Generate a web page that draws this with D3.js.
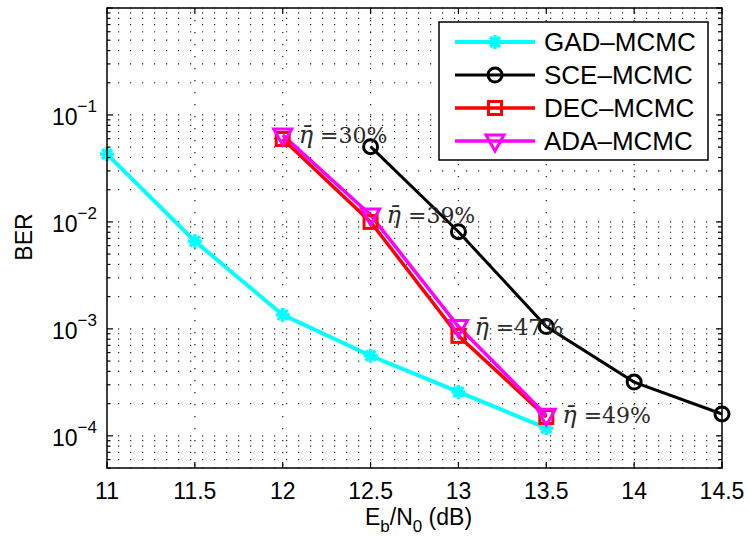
<!DOCTYPE html>
<meta charset="utf-8">
<style>
body { margin: 0; background: #fff; }
text { font-family: "Liberation Sans", Arial, sans-serif; fill: #000; }
.grid line { stroke: #222; stroke-width: 1.2px; stroke-dasharray: 1.2,10.8; }
.eta { font-family: "DejaVu Serif", "Liberation Serif", serif; font-size: 22px; fill: #2a2a2a; }
</style>
<body>
<script src="https://d3js.org/d3.v7.min.js"></script>
<script>

// data
var snr = [11, 11.5, 12, 12.5, 13, 13.5, 14, 14.5];
var gadX = [11, 11.5, 12, 12.5, 13, 13.5];
var gadBer = [0.043, 0.0066, 0.00135, 0.00056, 0.000257, 0.000118];
var sceX = [12.5, 13, 13.5, 14, 14.5];
var sceBer = [0.0505, 0.0081, 0.00105, 0.000318, 0.00016];
var decX = [12, 12.5, 13, 13.5];
var decBer = [0.0596, 0.0100, 0.00086, 0.00015];
var adaX = [12, 12.5, 13, 13.5];
var adaBer = [0.065, 0.0116, 0.00105, 0.000156];
var etaLabels = ["30%", "39%", "47%", "49%"];
var yTickExp = [-1, -2, -3, -4];
var seriesNames = ["GAD\u2013MCMC", "SCE\u2013MCMC", "DEC\u2013MCMC", "ADA\u2013MCMC"];

var series = [
  {name: seriesNames[0], xs: gadX, ys: gadBer, color: "#00ffff", width: 4, marker: "star"},
  {name: seriesNames[1], xs: sceX, ys: sceBer, color: "#000000", width: 3, marker: "circle"},
  {name: seriesNames[2], xs: decX, ys: decBer, color: "#ff0000", width: 3.5, marker: "square"},
  {name: seriesNames[3], xs: adaX, ys: adaBer, color: "#ff00ff", width: 3.5, marker: "triangle"}
];

// dimensions
var margin = {top: 8, right: 27, bottom: 76, left: 107},
    width = 749 - margin.left - margin.right,
    height = 544 - margin.top - margin.bottom;

var x = d3.scaleLinear().domain([11, 14.5]).range([0, width]);
var y = d3.scaleLog().domain([5e-5, 1]).range([height, 0]);

var svg = d3.select("body").append("svg")
    .attr("width", 749)
    .attr("height", 544)
  .append("g")
    .attr("transform", "translate(" + margin.left + "," + margin.top + ")");

// log ticks: majors and minors
var minorVals = [];
for (var e = -5; e <= 0; e++) {
  for (var m = 1; m <= 9; m++) {
    var v = m * Math.pow(10, e);
    if (v >= 5e-5 && v <= 1) minorVals.push(v);
  }
}

// dotted grid
var grid = svg.append("g").attr("class", "grid");
grid.selectAll(".hg").data(minorVals).enter().append("line")
    .attr("x1", 0).attr("x2", width)
    .attr("y1", function(d) { return y(d); })
    .attr("y2", function(d) { return y(d); })
    .attr("stroke-dashoffset", -11);
grid.selectAll(".vg").data(snr.slice(1, -1)).enter().append("line")
    .attr("y1", 0).attr("y2", height)
    .attr("x1", function(d) { return x(d); })
    .attr("x2", function(d) { return x(d); });

// lines
var line = d3.line()
    .x(function(d) { return x(d[0]); })
    .y(function(d) { return y(d[1]); });

series.forEach(function(s) {
  var pts = s.xs.map(function(v, i) { return [v, s.ys[i]]; });
  svg.append("path")
      .datum(pts)
      .attr("fill", "none")
      .attr("stroke", s.color)
      .attr("stroke-width", s.width)
      .attr("d", line);
});

function drawMarker(g, type, color, cx, cy) {
  if (type == "star") {
    var r = 7;
    for (var k = 0; k < 4; k++) {
      var a = k * Math.PI / 4;
      g.append("line")
        .attr("x1", cx - r * Math.cos(a)).attr("y1", cy - r * Math.sin(a))
        .attr("x2", cx + r * Math.cos(a)).attr("y2", cy + r * Math.sin(a))
        .attr("stroke", color).attr("stroke-width", 3.5);
    }
  } else if (type == "circle") {
    g.append("circle").attr("cx", cx).attr("cy", cy).attr("r", 7)
      .attr("fill", "none").attr("stroke", color).attr("stroke-width", 3);
  } else if (type == "square") {
    g.append("rect").attr("x", cx - 6.5).attr("y", cy - 6.5)
      .attr("width", 13).attr("height", 13)
      .attr("fill", "none").attr("stroke", color).attr("stroke-width", 3);
  } else {
    g.append("path")
      .attr("d", "M" + (cx - 9) + "," + (cy - 6) + "L" + (cx + 9) + "," + (cy - 6) +
                 "L" + cx + "," + (cy + 10) + "Z")
      .attr("fill", "none").attr("stroke", color).attr("stroke-width", 3);
  }
}

// markers
series.forEach(function(s) {
  var g = svg.append("g");
  s.xs.forEach(function(v, i) {
    drawMarker(g, s.marker, s.color, x(v), y(s.ys[i]));
  });
});

// eta annotations next to the ADA points
var eta = svg.selectAll(".eta").data(etaLabels).enter().append("text")
    .attr("class", "eta")
    .attr("x", function(d, i) { return x(adaX[i]) + 16; })
    .attr("y", function(d, i) { return y(adaBer[i]) + 8; });
eta.append("tspan").style("font-style", "italic").style("font-size", "24px").text("\u03b7\u0304");
eta.append("tspan").text(function(d) { return " =" + d; });

// axes box and ticks
svg.append("rect").attr("x", 0).attr("y", 0)
    .attr("width", width).attr("height", height)
    .attr("fill", "none").attr("stroke", "#000").attr("stroke-width", 1.5);

var ticks = svg.append("g").attr("stroke", "#000").attr("stroke-width", 1.2);
snr.forEach(function(v) {
  ticks.append("line").attr("x1", x(v)).attr("x2", x(v)).attr("y1", height).attr("y2", height - 6);
  ticks.append("line").attr("x1", x(v)).attr("x2", x(v)).attr("y1", 0).attr("y2", 6);
});
minorVals.forEach(function(v) {
  var major = Math.abs(Math.log10(v) - Math.round(Math.log10(v))) < 1e-9;
  var len = major ? 6 : 3.5;
  ticks.append("line").attr("x1", 0).attr("x2", len).attr("y1", y(v)).attr("y2", y(v));
  ticks.append("line").attr("x1", width).attr("x2", width - len).attr("y1", y(v)).attr("y2", y(v));
});

// x tick labels
svg.selectAll(".xl").data(snr).enter().append("text")
    .attr("x", function(d) { return x(d); })
    .attr("y", height + 31)
    .attr("text-anchor", "middle")
    .style("font-size", "23px")
    .text(function(d) { return d; });

// y tick labels 10^k
var yl = svg.selectAll(".yl").data(yTickExp).enter().append("text")
    .attr("x", -10)
    .attr("y", function(d) { return y(Math.pow(10, d)) + 10; })
    .attr("text-anchor", "end")
    .style("font-size", "23px");
yl.append("tspan").text("10");
yl.append("tspan").attr("dy", -13).style("font-size", "17px")
    .text(function(d) { return "\u2212" + Math.abs(d); });

// axis labels
var xlab = svg.append("text")
    .attr("x", width / 2 + 4)
    .attr("y", height + 57)
    .attr("text-anchor", "middle")
    .style("font-size", "23px");
xlab.append("tspan").text("E");
xlab.append("tspan").attr("dy", 7).style("font-size", "17px").text("b");
xlab.append("tspan").attr("dy", -7).text("/N");
xlab.append("tspan").attr("dy", 7).style("font-size", "17px").text("0");
xlab.append("tspan").attr("dy", -7).text(" (dB)");

svg.append("text")
    .attr("transform", "translate(-75," + (height / 2 - 1) + ") rotate(-90)")
    .attr("text-anchor", "middle")
    .style("font-size", "23px")
    .text("BER");

// legend
var lg = svg.append("g").attr("transform", "translate(" + (439 - margin.left) + "," + (22 - margin.top) + ")");
lg.append("rect").attr("width", 269).attr("height", 138)
    .attr("fill", "#fff").attr("stroke", "#000").attr("stroke-width", 1.5);
series.forEach(function(s, i) {
  var ly = 20 + i * 33;
  lg.append("line").attr("x1", 16).attr("x2", 96).attr("y1", ly).attr("y2", ly)
    .attr("stroke", s.color).attr("stroke-width", s.width);
  drawMarker(lg, s.marker, s.color, 56, ly);
  lg.append("text").attr("x", 105).attr("y", ly + 9)
    .style("font-size", "26px")
    .text(s.name);
});

</script>
</body>
